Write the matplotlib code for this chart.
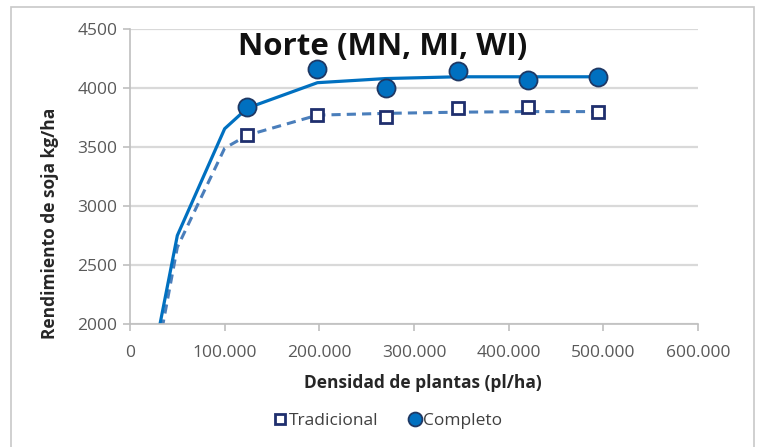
import matplotlib
matplotlib.use("Agg")
import matplotlib.pyplot as plt
from matplotlib.ticker import FuncFormatter, MultipleLocator
from matplotlib.patches import Rectangle
from matplotlib.lines import Line2D

# Observed data
dens_obs = [124000, 198000, 270000, 346000, 420000, 494000]
tradicional = [3600, 3775, 3755, 3830, 3840, 3800]
completo = [3840, 4165, 4000, 4140, 4065, 4095]

# Fitted curves
dens_fit = [25000, 50000, 100000, 124000, 198000, 270000, 346000, 420000, 494000]
trad_fit = [1580, 2650, 3490, 3600, 3770, 3785, 3795, 3800, 3800]
comp_fit = [1725, 2750, 3655, 3830, 4045, 4080, 4095, 4095, 4095]

title = "Norte (MN, MI, WI)"
xlabel = "Densidad de plantas (pl/ha)"
ylabel = "Rendimiento de soja kg/ha"
series_names = ["Tradicional", "Completo"]

FONT = ["Open Sans", "DejaVu Sans"]
plt.rcParams['font.family'] = FONT

fig = plt.figure(figsize=(7.59, 4.47), dpi=100)
ax = fig.add_axes([130/759, 1-324/447, (698-130)/759, (324-29)/447])

grid_c = "#d9d9d9"
ax.set_xlim(0, 600000)
ax.set_ylim(2000, 4500)
ax.yaxis.set_major_locator(MultipleLocator(500))
ax.xaxis.set_major_locator(MultipleLocator(100000))
ax.grid(axis='y', color=grid_c, linewidth=1.6, zorder=0)
ax.set_axisbelow(True)

sq_style = dict(linestyle='none', marker='s', markerfacecolor='white',
                markeredgecolor='#1f2f6e', markeredgewidth=2.0)
ci_style = dict(linestyle='none', marker='o', markerfacecolor='#0070c0',
                markeredgecolor='#1f3864', markeredgewidth=1.3)

ax.plot(dens_fit, trad_fit, color="#4a7ebb", linewidth=2.2, linestyle=(0, (3, 2)), zorder=2)
ax.plot(dens_fit, comp_fit, color="#0070c0", linewidth=2.3, zorder=2)
ax.plot(dens_obs, tradicional, markersize=8.5, zorder=3, **sq_style)
ax.plot(dens_obs, completo, markersize=13, zorder=3, **ci_style)

for s in ['top', 'right']:
    ax.spines[s].set_visible(False)
for s in ['left', 'bottom']:
    ax.spines[s].set_color("#bfbfbf")
    ax.spines[s].set_linewidth(1.2)
ax.tick_params(axis='both', colors="#bfbfbf", labelcolor="#595959", labelsize=12.5,
               length=5, width=1.2)
ax.tick_params(axis='y', pad=4)
ax.tick_params(axis='x', pad=10)

def fmt(v, pos):
    v = int(round(v))
    if v == 0:
        return "0"
    return f"{v:,}".replace(",", ".")
ax.xaxis.set_major_formatter(FuncFormatter(fmt))

ax.set_xlabel(xlabel, fontsize=12.5, fontweight='bold', color="#262626")
ax.set_ylabel(ylabel, fontsize=12.5, fontweight='bold', color="#262626")
ax.yaxis.set_label_coords(50/759, 0.5, transform=fig.transFigure)
ax.yaxis.label.set_va('center')
ax.xaxis.set_label_coords(0.5, 1-383/447, transform=fig.transFigure)
ax.xaxis.label.set_va('center')
ax.xaxis.label.set_x(423/759)

ax.text(383/759, 1-47/447, title, transform=fig.transFigure, ha='center', va='center',
        fontsize=22.5, fontweight='bold', color="#111111", zorder=4)

handles = [Line2D([], [], markersize=7.5, **sq_style),
           Line2D([], [], markersize=10, **ci_style)]
leg = fig.legend(handles, series_names, loc='center', bbox_to_anchor=(387/759, 1-421/447),
                 ncol=2, frameon=False, fontsize=12.5, handletextpad=0.0,
                 columnspacing=1.6, handlelength=1.0, labelcolor="#404040")

fig.patches.append(Rectangle((11/759, -0.01), (754-11)/759, 1-7/447+0.01,
                             transform=fig.transFigure, fill=False,
                             edgecolor="#c8c8c8", linewidth=1.2))

fig.savefig("out.png", dpi=100)
